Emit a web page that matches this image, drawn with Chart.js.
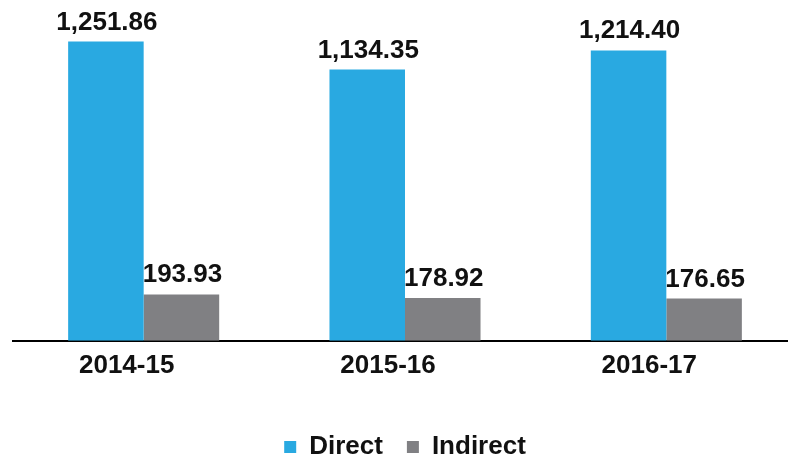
<!DOCTYPE html>
<html>
<head>
<meta charset="utf-8">
<script src="https://cdn.jsdelivr.net/npm/chart.js@4/dist/chart.umd.min.js"></script>
<style>
  html, body { margin: 0; padding: 0; background: #fff; overflow: hidden; }
  #wrap { width: 810px; height: 461px; }
</style>
</head>
<body>
<div id="wrap"><canvas id="bar-chart" width="810" height="461"></canvas></div>
<script>
var years = ['2014-15', '2015-16', '2016-17'];
var direct = [1251.86, 1134.35, 1214.40];
var indirect = [193.93, 178.92, 176.65];

var fontFamily = '"Liberation Sans", Arial, Helvetica, sans-serif';

// value labels above each bar
var valueLabels = {
    id: 'valueLabels',
    afterDatasetsDraw: function(chart) {
        var ctx = chart.ctx;
        ctx.save();
        ctx.font = 'bold 26px ' + fontFamily;
        ctx.fillStyle = '#111';
        ctx.textAlign = 'center';
        ctx.textBaseline = 'alphabetic';
        chart.data.datasets.forEach(function(ds, i) {
            chart.getDatasetMeta(i).data.forEach(function(bar, j) {
                var txt = ds.data[j].toLocaleString('en-US', {minimumFractionDigits: 2, maximumFractionDigits: 2});
                ctx.fillText(txt, bar.x + 1, bar.y - 12);
            });
        });
        ctx.restore();
    }
};

new Chart(document.getElementById('bar-chart'), {
    type: 'bar',
    data: {
        labels: years,
        datasets: [{
            label: 'Direct',
            backgroundColor: '#29a9e1',
            data: direct,
            categoryPercentage: 0.578,
            barPercentage: 1
        }, {
            label: 'Indirect',
            backgroundColor: '#808083',
            data: indirect,
            categoryPercentage: 0.578,
            barPercentage: 1
        }]
    },
    options: {
        responsive: false,
        animation: false,
        layout: {
            padding: {top: 30, left: 13, right: 13, bottom: -9}
        },
        scales: {
            x: {
                grid: {display: false},
                border: {display: true, color: '#000', width: 2},
                ticks: {
                    color: '#111',
                    padding: 1,
                    labelOffset: -17,
                    font: {family: fontFamily, size: 26, weight: 'bold'}
                },
                afterFit: function(scale) {
                    scale.height += 28;
                }
            },
            y: {
                display: false,
                min: 0,
                max: 1300
            }
        },
        plugins: {
            legend: {
                position: 'bottom',
                labels: {
                    color: '#111',
                    boxWidth: 12,
                    boxHeight: 12,
                    padding: 24,
                    font: {family: fontFamily, size: 26, weight: 'bold'}
                }
            },
            tooltip: {enabled: false}
        }
    },
    plugins: [valueLabels]
});
</script>
</body>
</html>
